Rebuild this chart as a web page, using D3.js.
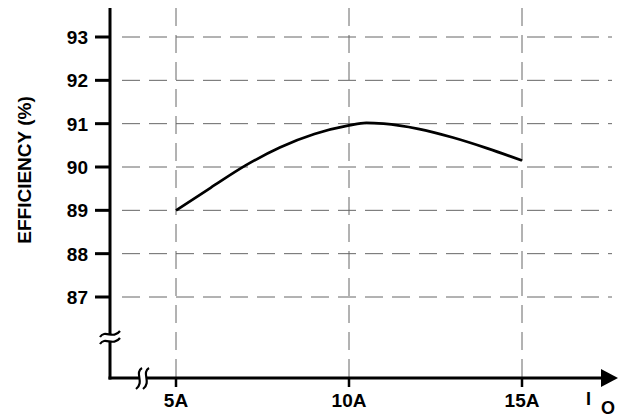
<!DOCTYPE html>
<html><head><meta charset="utf-8">
<script src="https://cdn.jsdelivr.net/npm/d3@7"></script>
<style>body{margin:0;background:#fff}svg{display:block}text{font-family:"Liberation Sans",Arial,sans-serif;font-weight:bold}</style>
</head><body><svg id="c" width="630" height="420"></svg>
<script>
const yTicks = [87, 88, 89, 90, 91, 92, 93];
const xTicks = [5, 10, 15];
const xTickLabels = ["5A", "10A", "15A"];
const currentA = [5, 6, 7, 8, 9, 10, 10.5, 11, 12, 13, 14, 15];
const efficiency = [89.0, 89.52, 90.03, 90.45, 90.76, 90.96, 91.02, 91.0, 90.88, 90.68, 90.43, 90.15];

(function () {
const svg = d3.select("#c");
const x = d3.scaleLinear().domain([5, 15]).range([176, 522]);
const y = d3.scaleLinear().domain([87, 93]).range([297, 37]);
const axX = 110, axY = 378, topY = 8, right = 605;

// grid
const g = svg.append("g").attr("stroke", "#666").attr("stroke-width", 1).attr("stroke-dasharray", "18,9");
yTicks.forEach(v => g.append("line").attr("x1", 122).attr("x2", 612).attr("y1", y(v)).attr("y2", y(v)));
xTicks.forEach(v => g.append("line").attr("x1", x(v)).attr("x2", x(v)).attr("y1", topY).attr("y2", axY));

// axes
svg.append("line").attr("x1", axX).attr("x2", axX).attr("y1", topY).attr("y2", axY + 1.5).attr("stroke", "#000").attr("stroke-width", 3);
svg.append("line").attr("x1", axX - 1.5).attr("x2", right).attr("y1", axY).attr("y2", axY).attr("stroke", "#000").attr("stroke-width", 3);
svg.append("path").attr("d", `M${right - 4},${axY - 9} L${right + 13},${axY} L${right - 4},${axY + 9} Z`).attr("fill", "#000");

// y ticks
yTicks.forEach(v => {
  svg.append("line").attr("x1", 95).attr("x2", axX).attr("y1", y(v)).attr("y2", y(v)).attr("stroke", "#000").attr("stroke-width", 3);
  svg.append("text").attr("x", 88).attr("y", y(v)).attr("dy", "0.36em").attr("text-anchor", "end").attr("font-size", 19).text(v);
});
// x ticks
xTicks.forEach((v, i) => {
  svg.append("line").attr("x1", x(v)).attr("x2", x(v)).attr("y1", axY).attr("y2", axY + 9).attr("stroke", "#000").attr("stroke-width", 2.5);
  svg.append("text").attr("x", x(v)).attr("y", 407).attr("text-anchor", "middle").attr("font-size", 19).text(xTickLabels[i]);
});

// axis breaks
const by = 338;
svg.append("rect").attr("x", axX - 8).attr("y", by - 4).attr("width", 16).attr("height", 7).attr("fill", "#fff");
[by - 4, by + 3].forEach(yy => svg.append("path")
  .attr("d", `M${axX - 10},${yy + 3} C${axX - 5},${yy - 5} ${axX + 3},${yy + 6} ${axX + 10},${yy - 3}`)
  .attr("fill", "none").attr("stroke", "#000").attr("stroke-width", 2.2));
const bx = 143;
svg.append("rect").attr("x", bx - 4).attr("y", axY - 3).attr("width", 8).attr("height", 6).attr("fill", "#fff");
[bx - 4, bx + 3].forEach(xx => svg.append("path")
  .attr("d", `M${xx + 3},${axY - 10} C${xx - 5},${axY - 5} ${xx + 6},${axY + 4} ${xx - 3},${axY + 11}`)
  .attr("fill", "none").attr("stroke", "#000").attr("stroke-width", 2.2));

// curve
svg.append("path").datum(currentA.map((c, i) => [c, efficiency[i]]))
  .attr("d", d3.line().x(d => x(d[0])).y(d => y(d[1])).curve(d3.curveMonotoneX))
  .attr("fill", "none").attr("stroke", "#000").attr("stroke-width", 2.7);

// labels
svg.append("text").attr("transform", "translate(31,170) rotate(-90)").attr("text-anchor", "middle").attr("font-size", 19).text("EFFICIENCY (%)");
svg.append("text").attr("x", 586).attr("y", 405).attr("font-size", 18).text("I");
svg.append("text").attr("x", 601).attr("y", 414).attr("font-size", 18).text("O");
})();
</script></body></html>
